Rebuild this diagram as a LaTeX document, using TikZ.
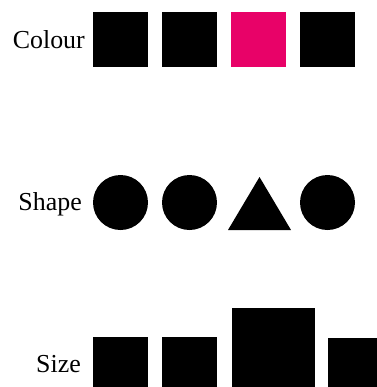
\documentclass[tikz,border=0pt]{standalone}
\usepackage{fontspec}
\setmainfont{Liberation Serif}
\definecolor{hotpink}{RGB}{232,2,104}
\begin{document}
\begin{tikzpicture}[x=1bp,y=-1bp,
  lbl/.style={anchor=base east,inner sep=0pt,font=\fontsize{26}{30}\selectfont},
  blk/.style={fill=black}]
\useasboundingbox (0,0) rectangle (377,387);
% Row 1: colour
\node[lbl] (colour) at (85,48) {Colour};
\fill[black] (93,12) rectangle (148,67);
\fill[black] (162,12) rectangle (217,67);
\fill[hotpink] (231,12) rectangle (286,67);
\fill[black] (300,12) rectangle (355,67);
% Row 2: shape
\node[lbl] (shape) at (82,210) {Shape};
\fill[black] (120.5,202.5) circle (27.5);
\fill[black] (189.5,202.5) circle (27.5);
\fill[black] (228,230) -- (259.5,177) -- (291,230) -- cycle;
\fill[black] (327.5,202.5) circle (27.5);
% Row 3: size
\node[lbl] (size) at (81,372) {Size};
\fill[black] (93,337) rectangle (148,400);
\fill[black] (162,337) rectangle (217,400);
\fill[black] (232,308) rectangle (315,400);
\fill[black] (328,338) rectangle (390,400);
\end{tikzpicture}
\end{document}
